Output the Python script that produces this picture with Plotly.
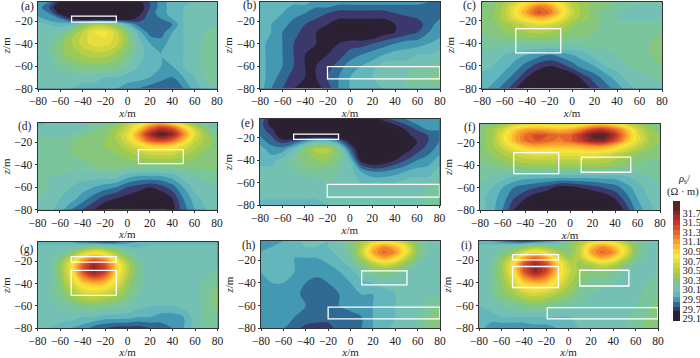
import plotly.graph_objects as go

x_m = [-80, -70, -60, -50, -40, -30, -20, -10, 0, 10, 20, 30, 40, 50, 60, 70, 80]
z_m = [-3, -8, -13, -18, -23, -30, -40, -50, -60, -70, -80]

rho_a = [
 [29.9,29.85,29.6,29.5,29.5,29.5,29.5,29.5,29.5,29.6,29.75,29.9,30.0,30.05,30.05,30.1,30.1],
 [29.9,29.75,29.5,29.5,29.5,29.5,29.5,29.5,29.5,29.55,29.75,29.9,30.0,30.05,30.1,30.1,30.1],
 [29.9,29.85,29.6,29.5,29.5,29.5,29.5,29.5,29.5,29.6,29.8,29.9,30.0,30.05,30.1,30.1,30.1],
 [30.0,29.9,29.85,29.65,29.5,29.5,29.5,29.5,29.55,29.7,29.8,29.85,29.95,30.05,30.1,30.1,30.1],
 [30.1,30.05,30.0,30.05,30.3,30.45,30.45,30.3,30.0,29.8,29.75,29.75,29.85,30.05,30.1,30.1,30.15],
 [30.1,30.1,30.15,30.35,30.55,30.75,30.8,30.6,30.3,30.0,29.8,29.8,29.95,30.05,30.1,30.15,30.2],
 [30.1,30.15,30.3,30.45,30.6,30.7,30.7,30.6,30.35,30.1,29.95,29.9,30.0,30.05,30.1,30.2,30.25],
 [30.1,30.15,30.3,30.4,30.45,30.5,30.5,30.4,30.25,30.1,30.0,29.95,30.0,30.05,30.1,30.2,30.25],
 [30.1,30.1,30.2,30.25,30.3,30.3,30.3,30.25,30.15,30.05,30.0,29.95,29.95,30.05,30.1,30.2,30.25],
 [30.1,30.1,30.1,30.1,30.1,30.1,30.05,30.05,30.0,30.0,29.95,29.9,29.85,29.95,30.05,30.15,30.2],
 [30.05,30.1,30.1,30.05,30.0,30.0,29.95,29.95,29.9,29.85,29.8,29.75,29.75,29.85,30.0,30.1,30.2],
]
rho_b = [
 [30.0,30.0,30.0,30.0,30.0,29.9,29.9,29.9,29.9,29.9,29.9,29.9,29.9,29.9,29.9,29.85,29.8],
 [30.0,30.0,30.0,29.9,29.9,29.85,29.85,29.8,29.8,29.8,29.8,29.8,29.8,29.8,29.8,29.8,29.8],
 [30.0,30.0,29.95,29.9,29.85,29.8,29.75,29.7,29.7,29.7,29.7,29.7,29.75,29.8,29.8,29.8,29.8],
 [30.0,30.0,29.9,29.85,29.8,29.75,29.7,29.65,29.65,29.65,29.65,29.65,29.7,29.7,29.75,29.8,29.85],
 [30.0,29.95,29.9,29.8,29.75,29.7,29.65,29.55,29.55,29.55,29.6,29.65,29.65,29.7,29.7,29.8,29.9],
 [30.0,29.95,29.85,29.8,29.7,29.65,29.55,29.5,29.5,29.5,29.5,29.6,29.65,29.7,29.75,29.85,29.9],
 [30.0,29.9,29.85,29.75,29.7,29.65,29.65,29.65,29.7,29.7,29.75,29.8,29.85,29.9,29.9,29.95,30.0],
 [30.0,29.9,29.85,29.75,29.65,29.65,29.65,29.7,29.8,29.85,29.9,29.95,30.0,30.0,30.05,30.05,30.1],
 [30.0,29.9,29.85,29.75,29.65,29.65,29.7,29.8,29.9,29.95,30.0,30.1,30.1,30.1,30.15,30.15,30.2],
 [30.0,29.9,29.8,29.7,29.65,29.65,29.75,29.85,29.95,30.0,30.05,30.1,30.1,30.15,30.2,30.25,30.3],
 [30.0,29.85,29.75,29.65,29.6,29.6,29.7,29.85,29.95,30.0,30.05,30.05,30.1,30.15,30.2,30.2,30.2],
]
rho_c = [
 [30.2,30.3,30.45,30.6,30.8,30.9,30.85,30.7,30.5,30.4,30.3,30.3,30.25,30.2,30.2,30.2,30.2],
 [30.3,30.3,30.5,30.75,31.0,31.25,31.15,30.85,30.55,30.4,30.3,30.25,30.2,30.15,30.1,30.1,30.1],
 [30.3,30.35,30.5,30.8,31.1,31.4,31.25,30.9,30.6,30.4,30.3,30.2,30.15,30.1,30.1,30.1,30.1],
 [30.3,30.35,30.5,30.7,30.9,31.0,30.95,30.75,30.5,30.4,30.3,30.2,30.15,30.1,30.1,30.1,30.1],
 [30.3,30.3,30.4,30.5,30.6,30.7,30.65,30.55,30.4,30.3,30.3,30.2,30.2,30.2,30.2,30.2,30.2],
 [30.25,30.3,30.35,30.4,30.45,30.5,30.45,30.4,30.3,30.3,30.25,30.2,30.2,30.2,30.2,30.2,30.25],
 [30.2,30.2,30.2,30.2,30.2,30.2,30.2,30.2,30.2,30.2,30.2,30.2,30.2,30.2,30.2,30.25,30.35],
 [30.1,30.1,30.05,30.0,29.95,29.9,29.85,29.9,29.95,30.0,30.1,30.1,30.15,30.2,30.2,30.25,30.35],
 [30.1,30.05,30.0,29.9,29.8,29.7,29.65,29.7,29.8,29.9,29.95,30.05,30.1,30.15,30.2,30.2,30.25],
 [30.0,30.0,29.9,29.8,29.65,29.55,29.5,29.5,29.55,29.7,29.8,29.9,30.0,30.1,30.1,30.15,30.2],
 [30.0,29.9,29.8,29.65,29.5,29.5,29.5,29.5,29.5,29.55,29.7,29.8,29.9,30.0,30.1,30.1,30.1],
]
rho_d = [
 [30.0,30.05,30.05,30.05,30.1,30.15,30.2,30.3,30.5,30.7,30.9,31.0,30.85,30.6,30.3,30.1,30.05],
 [30.1,30.1,30.1,30.1,30.15,30.2,30.3,30.4,30.6,30.9,31.3,31.55,31.4,31.0,30.6,30.3,30.1],
 [30.1,30.1,30.1,30.15,30.2,30.3,30.3,30.45,30.7,31.1,31.6,31.85,31.7,31.2,30.7,30.4,30.2],
 [30.2,30.2,30.2,30.2,30.3,30.3,30.35,30.45,30.65,31.0,31.35,31.5,31.35,31.0,30.6,30.4,30.3],
 [30.2,30.2,30.2,30.25,30.3,30.3,30.35,30.4,30.55,30.7,30.9,30.95,30.9,30.7,30.5,30.4,30.3],
 [30.2,30.2,30.2,30.25,30.3,30.3,30.3,30.35,30.4,30.5,30.6,30.6,30.6,30.5,30.4,30.3,30.3],
 [30.2,30.2,30.2,30.2,30.2,30.25,30.3,30.3,30.3,30.3,30.3,30.3,30.3,30.3,30.3,30.3,30.3],
 [30.2,30.15,30.15,30.1,30.1,30.1,30.1,30.1,30.0,29.95,29.95,29.95,30.0,30.1,30.15,30.2,30.2],
 [30.2,30.15,30.1,30.05,30.0,29.95,29.9,29.85,29.75,29.7,29.65,29.7,29.8,29.95,30.1,30.1,30.15],
 [30.15,30.1,30.05,30.0,29.9,29.8,29.7,29.65,29.6,29.55,29.5,29.55,29.65,29.85,30.0,30.1,30.1],
 [30.1,30.1,30.0,29.85,29.75,29.65,29.55,29.5,29.5,29.5,29.5,29.5,29.6,29.8,29.95,30.05,30.1],
]
rho_e = [
 [29.85,29.6,29.5,29.5,29.5,29.5,29.5,29.5,29.5,29.5,29.55,29.7,29.8,29.85,29.9,29.9,29.9],
 [29.8,29.6,29.5,29.5,29.5,29.5,29.5,29.5,29.5,29.5,29.5,29.55,29.65,29.75,29.85,29.9,29.9],
 [29.8,29.7,29.5,29.5,29.5,29.5,29.5,29.5,29.5,29.5,29.5,29.5,29.55,29.65,29.75,29.85,29.85],
 [29.85,29.75,29.55,29.5,29.5,29.5,29.5,29.5,29.5,29.5,29.5,29.5,29.5,29.6,29.7,29.75,29.85],
 [29.9,29.8,29.7,29.75,29.9,30.05,30.05,29.85,29.6,29.5,29.5,29.5,29.5,29.55,29.65,29.75,29.85],
 [30.0,29.9,29.9,30.05,30.3,30.5,30.5,30.25,29.8,29.5,29.5,29.5,29.5,29.6,29.7,29.8,29.9],
 [30.0,30.0,30.1,30.2,30.3,30.35,30.35,30.25,30.05,29.6,29.5,29.55,29.65,29.75,29.85,29.9,30.0],
 [30.1,30.1,30.1,30.15,30.2,30.2,30.2,30.15,30.1,29.95,29.85,29.85,29.9,29.95,30.0,30.0,30.1],
 [30.1,30.1,30.1,30.1,30.1,30.1,30.15,30.1,30.1,30.05,30.05,30.05,30.05,30.1,30.1,30.1,30.2],
 [30.1,30.1,30.1,30.1,30.1,30.1,30.1,30.1,30.1,30.1,30.1,30.1,30.1,30.1,30.1,30.2,30.2],
 [30.0,30.0,30.0,30.0,30.0,30.0,30.05,30.1,30.1,30.1,30.1,30.1,30.1,30.1,30.1,30.2,30.2],
]
rho_f = [
 [30.2,30.3,30.4,30.55,30.65,30.7,30.7,30.65,30.65,30.75,30.85,30.9,30.8,30.6,30.45,30.3,30.2],
 [30.3,30.4,30.6,30.9,31.05,31.1,31.05,31.0,31.05,31.2,31.45,31.5,31.3,31.0,30.6,30.4,30.3],
 [30.3,30.4,30.7,31.0,31.25,31.4,31.35,31.25,31.3,31.55,31.8,31.85,31.55,31.1,30.7,30.45,30.35],
 [30.3,30.4,30.7,31.0,31.25,31.35,31.3,31.2,31.3,31.5,31.7,31.7,31.4,31.0,30.7,30.45,30.35],
 [30.3,30.4,30.6,30.8,30.95,31.05,31.0,31.0,31.0,31.05,31.1,31.1,30.95,30.75,30.55,30.4,30.3],
 [30.3,30.35,30.45,30.55,30.65,30.7,30.7,30.7,30.7,30.7,30.7,30.65,30.55,30.45,30.35,30.3,30.3],
 [30.2,30.25,30.3,30.35,30.4,30.4,30.4,30.4,30.4,30.4,30.4,30.4,30.35,30.3,30.25,30.2,30.2],
 [30.2,30.15,30.1,30.05,30.0,30.0,30.0,30.0,30.0,30.0,30.0,30.0,30.0,30.05,30.1,30.15,30.2],
 [30.1,30.05,29.95,29.85,29.8,29.75,29.7,29.6,29.6,29.65,29.7,29.75,29.8,29.9,30.0,30.1,30.1],
 [30.1,30.0,29.9,29.75,29.65,29.55,29.5,29.5,29.5,29.5,29.5,29.55,29.65,29.8,29.95,30.05,30.1],
 [30.1,30.0,29.85,29.65,29.5,29.5,29.5,29.5,29.5,29.5,29.5,29.5,29.5,29.7,29.9,30.0,30.1],
]
rho_g = [
 [30.0,30.0,30.0,29.95,29.85,29.8,29.75,29.8,29.9,29.95,30.0,30.0,30.0,30.0,30.0,30.0,30.0],
 [30.1,30.1,30.1,30.15,30.25,30.35,30.3,30.2,30.1,30.05,30.1,30.1,30.1,30.1,30.1,30.1,30.1],
 [30.1,30.1,30.15,30.3,30.6,30.8,30.7,30.45,30.2,30.1,30.1,30.1,30.1,30.1,30.1,30.1,30.1],
 [30.1,30.1,30.25,30.6,31.0,31.25,31.1,30.7,30.35,30.15,30.1,30.1,30.1,30.1,30.1,30.1,30.1],
 [30.1,30.1,30.35,30.75,31.3,31.65,31.4,30.9,30.5,30.2,30.1,30.1,30.1,30.1,30.1,30.1,30.1],
 [30.1,30.1,30.35,30.75,31.35,31.7,31.45,30.9,30.5,30.2,30.1,30.1,30.1,30.1,30.1,30.1,30.2],
 [30.1,30.1,30.3,30.6,30.9,31.0,30.95,30.7,30.4,30.2,30.1,30.1,30.1,30.1,30.1,30.2,30.25],
 [30.1,30.15,30.25,30.4,30.55,30.6,30.55,30.45,30.3,30.15,30.1,30.1,30.1,30.1,30.1,30.2,30.3],
 [30.1,30.1,30.15,30.2,30.25,30.3,30.25,30.2,30.15,30.1,30.05,30.05,30.05,30.1,30.1,30.2,30.3],
 [30.1,30.1,30.1,30.1,30.05,30.05,30.0,30.0,30.0,29.95,29.95,29.9,29.9,29.95,30.1,30.2,30.2],
 [30.1,30.05,30.0,29.95,29.9,29.8,29.75,29.7,29.7,29.7,29.75,29.8,29.85,29.95,30.1,30.2,30.2],
]
rho_h = [
 [29.85,29.9,29.95,30.0,30.1,30.1,30.05,30.1,30.3,30.45,30.6,30.7,30.65,30.45,30.25,30.15,30.1],
 [29.9,29.95,30.0,30.0,30.05,30.05,30.05,30.1,30.25,30.5,30.95,31.15,31.0,30.7,30.3,30.15,30.1],
 [29.95,30.0,30.0,30.0,30.0,30.0,30.0,30.1,30.2,30.55,31.05,31.3,31.15,30.75,30.3,30.15,30.1],
 [29.95,30.0,30.0,29.95,29.95,29.95,30.0,30.05,30.15,30.45,30.85,31.05,30.9,30.55,30.25,30.1,30.1],
 [29.95,30.0,30.0,29.95,29.9,29.9,29.95,30.0,30.1,30.3,30.5,30.65,30.55,30.35,30.15,30.1,30.1],
 [29.95,30.0,30.0,29.95,29.9,29.9,29.9,29.95,30.0,30.15,30.25,30.3,30.25,30.15,30.1,30.1,30.1],
 [29.95,29.95,29.95,29.9,29.85,29.8,29.85,29.9,29.95,30.0,30.05,30.1,30.1,30.1,30.1,30.1,30.1],
 [29.95,29.95,29.95,29.9,29.8,29.8,29.8,29.85,29.9,29.95,29.95,30.0,30.05,30.1,30.1,30.1,30.15],
 [29.95,29.95,29.9,29.9,29.85,29.85,29.85,29.85,29.9,29.9,29.95,30.0,30.05,30.1,30.1,30.2,30.25],
 [29.95,29.9,29.9,29.85,29.85,29.85,29.8,29.8,29.8,29.85,29.95,30.0,30.05,30.1,30.15,30.25,30.3],
 [29.9,29.85,29.85,29.8,29.7,29.65,29.7,29.8,29.8,29.85,29.95,30.0,30.1,30.1,30.15,30.25,30.3],
]
rho_i = [
 [29.95,29.95,29.85,29.75,29.7,29.75,29.85,29.95,30.2,30.45,30.6,30.7,30.65,30.45,30.25,30.15,30.1],
 [30.1,30.1,30.15,30.2,30.3,30.4,30.35,30.25,30.3,30.5,30.95,31.15,31.0,30.7,30.3,30.15,30.1],
 [30.1,30.1,30.2,30.35,30.65,30.85,30.7,30.45,30.3,30.55,31.05,31.3,31.15,30.75,30.3,30.15,30.1],
 [30.1,30.1,30.3,30.6,31.05,31.3,31.1,30.7,30.4,30.5,30.85,31.05,30.9,30.55,30.25,30.1,30.1],
 [30.1,30.15,30.4,30.75,31.35,31.65,31.4,30.9,30.55,30.4,30.5,30.65,30.55,30.35,30.15,30.1,30.1],
 [30.1,30.15,30.4,30.75,31.35,31.7,31.45,30.95,30.6,30.4,30.3,30.3,30.25,30.15,30.1,30.1,30.15],
 [30.1,30.15,30.35,30.6,30.9,31.0,30.95,30.75,30.5,30.3,30.2,30.2,30.15,30.1,30.1,30.15,30.2],
 [30.1,30.15,30.3,30.4,30.55,30.6,30.55,30.45,30.35,30.2,30.15,30.1,30.1,30.1,30.1,30.2,30.25],
 [30.05,30.1,30.15,30.2,30.25,30.3,30.25,30.2,30.15,30.15,30.1,30.1,30.1,30.1,30.15,30.2,30.3],
 [30.0,30.0,30.05,30.05,30.05,30.05,30.05,30.05,30.05,30.1,30.1,30.1,30.1,30.1,30.2,30.25,30.3],
 [30.0,29.9,29.85,29.85,29.85,29.9,29.9,29.95,30.0,30.05,30.1,30.1,30.1,30.15,30.2,30.3,30.3],
]

panel_labels = ["(a)", "(b)", "(c)", "(d)", "(e)", "(f)", "(g)", "(h)", "(i)"]
panel_data = [rho_a, rho_b, rho_c, rho_d, rho_e, rho_f, rho_g, rho_h, rho_i]

# plot rectangles in page pixels: left, right, top, bottom
frames = [
 (38, 217, 2, 88.5), (260, 440, 2, 88.5), (482, 662, 1.5, 88.5),
 (37.5, 217, 123, 209.7), (260, 439.5, 119, 205), (480, 660, 124, 210),
 (37.5, 217.5, 242, 328.3), (261, 440, 241, 328.3), (479, 658, 241, 328.3),
]
label_xy = [(27, 7), (250, 5), (470, 5), (25, 126), (248, 124), (470, 127), (27, 249), (249, 245), (466, 245)]

# target boxes: x0, x1, z0, z1 per panel
boxes = [
 [(-50, -10, -21, -15.5)],
 [(-20, 80, -71.5, -60.5)],
 [(-50, -10, -48.5, -27)],
 [(10, 50, -39, -26.7)],
 [(-50, -10, -21.3, -16.6), (-20, 80, -73, -61.6)],
 [(-50, -10, -47.4, -28.7), (10, 54, -46.2, -32.6)],
 [(-50, -10, -21, -16), (-50, -10, -50.7, -28.4)],
 [(10, 50.5, -41.7, -29.4), (-20, 80, -71.7, -61.3)],
 [(-50, -9, -19.6, -15), (-50, -9, -44, -25.5), (10, 54, -42.7, -28.8), (-19, 80, -71.7, -61.7)],
]

level_values = [29.45, 29.5, 29.6, 29.7, 29.8, 29.9, 30.0, 30.1, 30.2, 30.3, 30.4, 30.5, 30.6, 30.7,
                30.8, 30.9, 31.0, 31.1, 31.2, 31.3, 31.4, 31.5, 31.6, 31.7, 31.8, 31.9, 31.95]
level_colors = ["#2a2030", "#2a2030", "#2a2030", "#3d3468", "#2e6390", "#3d93ae", "#5fb4bd", "#72bfb8",
                "#78c4a4", "#80c68a", "#93c85f", "#a9cc4a", "#c4d244", "#dcd93f", "#f0e33c",
                "#fbe639", "#fcc934", "#fbb030", "#f6942c", "#ee7a2a", "#e25f2a", "#d4472b",
                "#c4362b", "#a82c2a", "#7f2a28", "#5a2525", "#5a2525"]
bar_ticks = [29.5, 29.7, 29.9, 30.1, 30.3, 30.5, 30.7, 30.9, 31.1, 31.3, 31.5, 31.7]
bar_labels = ["29.1", "29.7", "29.9", "30.1", "30.3", "30.5", "30.7", "30.9", "31.1", "31.3", "31.5", "31.7"]

W, H = 700, 358
FONT = "Liberation Serif"
INK = "#222222"
lo, hi = level_values[0], level_values[-1]
scale = [[(v - lo) / (hi - lo), c] for v, c in zip(level_values, level_colors)]

fig = go.Figure()
layout = dict(
    template="none",
    width=W, height=H, margin=dict(l=0, r=0, t=0, b=0, pad=0, autoexpand=False), autosize=False,
    paper_bgcolor="white", plot_bgcolor="white",
    font=dict(family=FONT, size=11, color=INK), showlegend=False,
)
annotations, shapes = [], []
for i, (name, rho, fr, lab, bx) in enumerate(zip(panel_labels, panel_data, frames, label_xy, boxes)):
    n = "" if i == 0 else str(i + 1)
    fig.add_trace(go.Contour(
        x=x_m, y=z_m, z=rho, name=name, xaxis="x" + n, yaxis="y" + n,
        zmin=lo, zmax=hi, colorscale=scale, line=dict(width=0),
        contours=dict(coloring="fill", start=lo, end=hi - 0.1, size=0.1, showlines=False),
        showscale=(i == 0),
        colorbar=dict(
            x=673 / W, xanchor="left", y=1 - 321 / H, yanchor="bottom",
            len=120, lenmode="pixels", thickness=7, thicknessmode="pixels",
            outlinewidth=0, ticks="", tickmode="array", tickvals=bar_ticks, ticktext=bar_labels,
            tickfont=dict(family=FONT, size=10.5, color=INK), xpad=0, ypad=0,
        ),
    ))
    l, r, t, b = fr
    common = dict(showgrid=False, zeroline=False, showline=True, linecolor="#333333", linewidth=1,
                  mirror=True, ticks="outside", ticklen=2, tickcolor="#333333", tickwidth=1,
                  automargin=False, tickfont=dict(family=FONT, size=11.5, color=INK))
    layout["xaxis" + n] = dict(
        domain=[l / W, r / W], anchor="y" + n, range=[-80, 80], tickmode="array",
        tickvals=list(range(-80, 81, 20)),
        title=dict(text="<i>x</i>/m", standoff=1, font=dict(family=FONT, size=11, color=INK)), **common)
    layout["yaxis" + n] = dict(
        domain=[1 - b / H, 1 - t / H], anchor="x" + n, range=[-80, -3], tickmode="array",
        tickvals=[-20, -40, -60, -80],
        title=dict(text="<i>z</i>/m", standoff=1, font=dict(family=FONT, size=11, color=INK)), **common)
    annotations.append(dict(text=name, x=lab[0] / W, y=1 - lab[1] / H, xref="paper", yref="paper",
                            showarrow=False, xanchor="center", yanchor="middle",
                            font=dict(family=FONT, size=11.5, color=INK)))
    for x0, x1, z0, z1 in bx:
        shapes.append(dict(type="rect", xref="x" + n, yref="y" + n, x0=x0, x1=x1, y0=z0, y1=z1,
                           line=dict(color="white", width=1.3), fillcolor="rgba(0,0,0,0)"))

annotations.append(dict(text="<i>ρ</i><sub>s</sub>/", x=684 / W, y=1 - 179 / H, xref="paper", yref="paper",
                        showarrow=False, xanchor="center", yanchor="middle",
                        font=dict(family=FONT, size=10.5, color=INK)))
annotations.append(dict(text="(Ω · m)", x=683 / W, y=1 - 192 / H, xref="paper", yref="paper",
                        showarrow=False, xanchor="center", yanchor="middle",
                        font=dict(family=FONT, size=10.5, color=INK)))
layout["annotations"] = annotations
layout["shapes"] = shapes
fig.update_layout(**layout)
fig.write_html("out.html", config={"displayModeBar": False},
               post_script="document.body.style.margin='0';document.documentElement.style.overflow='hidden';")
